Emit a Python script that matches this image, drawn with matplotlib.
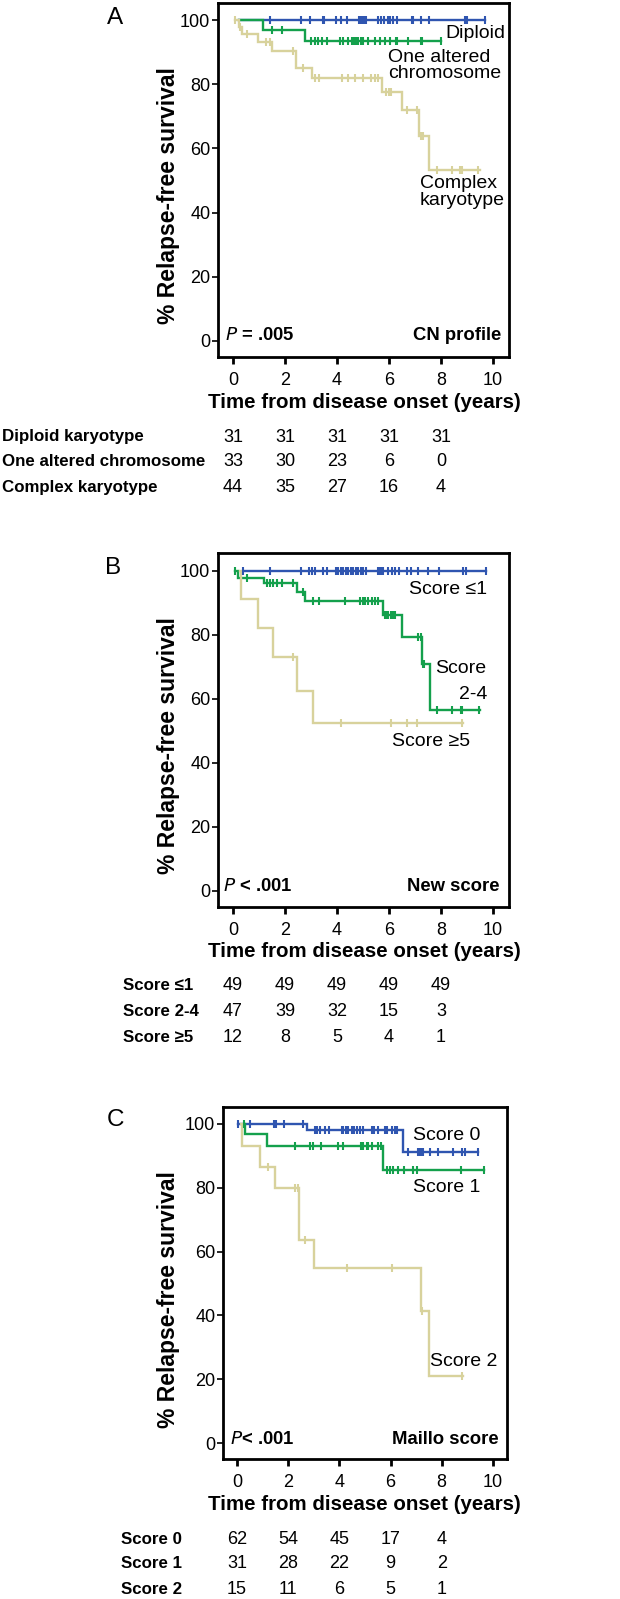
import numpy as np
import matplotlib
matplotlib.use("Agg")
import matplotlib.pyplot as plt
from matplotlib.transforms import blended_transform_factory

plt.rcParams['font.family'] = ['Liberation Sans', 'DejaVu Sans']

BLUE = '#2f55b0'
GREEN = '#14a04c'
TAN = '#d8d29c'

# ---------------- Panel A : CN profile ----------------
A_dip_start, A_dip_end = 0.24, 9.69
A_dip_events = []
A_dip_surv = []
A_dip_cens = [1.42, 2.62, 2.96, 3.45, 3.50, 3.96, 4.15, 4.40, 4.85, 4.91, 4.97, 5.04,
              5.10, 5.56, 5.69, 5.82, 5.95, 6.04, 6.17, 6.32, 6.87, 6.94, 7.23, 7.55,
              8.92, 8.99, 9.69]

A_one_start, A_one_end = 0.24, 7.99
A_one_events = [1.17, 2.77]
A_one_surv = [96.9, 93.5]
A_one_cens = [1.50, 1.87, 3.00, 3.15, 3.28, 3.41, 3.60, 4.12, 4.24, 4.44, 4.56, 4.65,
              4.73, 4.82, 4.91, 5.01, 5.21, 5.46, 5.65, 5.85, 6.04, 6.26, 6.29, 6.74,
              7.22, 7.26, 7.99]

A_cpx_start, A_cpx_end = 0.08, 9.50
A_cpx_events = [0.24, 0.33, 0.95, 1.49, 2.42, 3.05, 5.74, 6.49, 7.15, 7.55]
A_cpx_surv = [97.9, 95.5, 93.0, 90.4, 84.9, 81.8, 77.6, 71.9, 63.75, 53.3]
A_cpx_cens = [0.08, 0.26, 0.55, 1.26, 1.42, 2.30, 2.70, 3.15, 3.32, 4.18, 4.44, 4.69,
              5.01, 5.29, 5.46, 5.59, 5.88, 6.01, 6.07, 6.70, 7.09, 7.23, 7.30, 7.83,
              8.41, 8.73, 8.80, 9.44]

A_rows = ['Diploid karyotype', 'One altered chromosome', 'Complex karyotype']
A_risk = [[31, 31, 31, 31, 31], [33, 30, 23, 6, 0], [44, 35, 27, 16, 4]]

# ---------------- Panel B : New score ----------------
B_s1_start, B_s1_end = 0.38, 9.73
B_s1_events = []
B_s1_surv = []
B_s1_cens = [0.38, 1.42, 2.62, 2.91, 3.04, 3.15, 3.45, 3.63, 3.96, 4.05, 4.14, 4.24,
             4.35, 4.44, 4.53, 4.63, 4.73, 4.82, 4.91, 5.01, 5.10, 5.56, 5.63, 5.69,
             5.78, 5.97, 6.10, 6.23, 6.40, 6.71, 6.83, 7.13, 7.51, 7.94, 8.86, 8.96, 9.73]

B_s24_start, B_s24_end = 0.08, 9.50
B_s24_events = [0.20, 1.19, 2.45, 2.77, 5.78, 6.51, 7.26, 7.58]
B_s24_surv = [97.9, 96.1, 93.5, 90.7, 86.25, 79.3, 70.9, 56.6]
B_s24_cens = [0.08, 0.52, 1.29, 1.42, 1.55, 1.68, 1.87, 2.32, 2.70, 3.09, 3.32, 4.31,
              4.88, 4.99, 5.08, 5.21, 5.33, 5.46, 5.59, 5.85, 5.91, 5.97, 6.06, 6.14,
              6.23, 7.13, 7.22, 7.30, 7.36, 7.86, 8.41, 8.77, 8.82, 9.46]

B_s5_start, B_s5_end = 0.27, 8.84
B_s5_events = [0.30, 0.97, 1.53, 2.45, 3.06]
B_s5_surv = [91.1, 82.1, 73.0, 62.6, 52.4]
B_s5_cens = [2.32, 4.14, 6.06, 6.71, 7.09, 8.80]

B_rows = ['Score ≤1', 'Score 2-4', 'Score ≥5']
B_risk = [[49, 49, 49, 49, 49], [47, 39, 32, 15, 3], [12, 8, 5, 4, 1]]

# ---------------- Panel C : Maillo score ----------------
C_s0_start, C_s0_end = 0.03, 9.43
C_s0_events = [2.72, 6.47]
C_s0_surv = [98.1, 91.25]
C_s0_cens = [0.03, 0.51, 1.45, 1.52, 1.84, 2.59, 3.05, 3.14, 3.24, 3.44, 3.61, 4.09,
             4.15, 4.25, 4.35, 4.48, 4.58, 4.67, 4.80, 4.93, 5.26, 5.35, 5.52, 5.78,
             5.87, 6.04, 6.17, 6.24, 6.69, 7.08, 7.15, 7.21, 7.28, 7.54, 7.86, 8.45,
             8.78, 8.91, 9.43]

C_s1_start, C_s1_end = 0.29, 9.65
C_s1_events = [0.30, 1.16, 5.72]
C_s1_surv = [96.8, 93.2, 85.6]
C_s1_cens = [0.29, 2.27, 2.85, 2.98, 3.28, 3.96, 4.13, 4.83, 4.93, 5.07, 5.13, 5.26,
             5.52, 5.61, 5.85, 5.98, 6.11, 6.30, 6.52, 6.86, 7.02, 8.74, 9.65]

C_s2_start, C_s2_end = 0.17, 8.82
C_s2_events = [0.18, 0.90, 1.48, 2.42, 3.01, 7.19, 7.51]
C_s2_surv = [93.2, 86.4, 79.9, 63.75, 54.7, 41.3, 21.0]
C_s2_cens = [1.22, 2.27, 2.37, 2.65, 4.28, 6.04, 7.21, 8.78]

C_rows = ['Score 0', 'Score 1', 'Score 2']
C_risk = [[62, 54, 45, 17, 4], [31, 28, 22, 9, 2], [15, 11, 6, 5, 1]]

risk_times = [0, 2, 4, 6, 8]
x_ticks = [0, 2, 4, 6, 8, 10]
y_ticks = [0, 20, 40, 60, 80, 100]

W, H = 620, 1599
fig = plt.figure(figsize=(W / 100, H / 100), dpi=100)


def fx(px):
    return px / W


def fy(py):
    return 1 - py / H


def km(ax, start, end, events, surv, cens, color):
    xs = [start] + list(events) + [end]
    ys = [100] + list(surv) + [surv[-1] if surv else 100]
    ax.step(xs, ys, where='post', color=color, lw=1.7, solid_joinstyle='miter', zorder=3)
    levels = np.array([100] + list(surv))
    idx = np.searchsorted(np.array(events, dtype=float), np.array(cens), side='right')
    ax.plot(cens, levels[idx], ls='none', marker='|', ms=6, mew=1.5, color=color, zorder=4)


def panel(left, top, right, bottom, xlim, ylim, letter, letter_xy, pval_xy, ptext,
          title, title_x, ylab_x, ylab_y, xlab_y):
    ax = fig.add_axes([fx(left), fy(bottom), fx(right - left), (bottom - top) / H])
    ax.set_xlim(*xlim)
    ax.set_ylim(*ylim)
    for s in ax.spines.values():
        s.set_linewidth(2)
    ax.set_xticks(x_ticks)
    ax.set_yticks(y_ticks)
    ax.tick_params(axis='y', direction='out', length=4, width=1.2, pad=1.5, labelsize=13)
    ax.tick_params(axis='x', direction='out', length=5, width=2, pad=5.5, labelsize=13)
    fig.text(fx(letter_xy[0]), fy(letter_xy[1]), letter, fontsize=17.5, ha='center', va='center')
    ax.text(pval_xy[0], pval_xy[1], ptext, transform=ax.transAxes, fontsize=13.3,
            fontweight='bold', ha='left', va='center')
    ax.text(title_x, pval_xy[1], title, transform=ax.transAxes, fontsize=13.3,
            fontweight='bold', ha='right', va='center')
    fig.text(fx(ylab_x), fy(ylab_y), '% Relapse-free survival', rotation=90, fontsize=16.5,
             fontweight='bold', ha='center', va='center')
    fig.text(fx(364), fy(xlab_y), 'Time from disease onset (years)', fontsize=14.8,
             fontweight='bold', ha='center', va='center')
    return ax


def risk_table(ax, rows, risk, label_x, row_ys):
    tr = blended_transform_factory(ax.transData, fig.transFigure)
    for name, counts, py in zip(rows, risk, row_ys):
        fig.text(fx(label_x), fy(py), name, fontsize=12.2, fontweight='bold', ha='left', va='center')
        for t, c in zip(risk_times, counts):
            ax.text(t, fy(py), str(c), transform=tr, fontsize=13, ha='center', va='center',
                    clip_on=False)


# Panel A
axA = panel(218, 3, 509, 357, (-0.577, 10.615), (-5, 105.3), 'A', (115, 18),
            (0.024, 0.062), r'$\bf{\it{P}}$ = .005', 'CN profile', 0.975, 168, 196, 402)
km(axA, A_dip_start, A_dip_end, A_dip_events, A_dip_surv, A_dip_cens, BLUE)
km(axA, A_one_start, A_one_end, A_one_events, A_one_surv, A_one_cens, GREEN)
km(axA, A_cpx_start, A_cpx_end, A_cpx_events, A_cpx_surv, A_cpx_cens, TAN)
axA.text(10.46, 95.9, 'Diploid', fontsize=14, ha='right', va='center')
axA.text(5.96, 85.9, 'One altered\nchromosome', fontsize=14, ha='left', va='center',
         linespacing=0.95)
axA.text(7.19, 46.4, 'Complex\nkaryotype', fontsize=14, ha='left', va='center',
         linespacing=0.95)
risk_table(axA, A_rows, A_risk, 2, [437, 462, 487])

# Panel B
axB = panel(218, 553, 509, 907, (-0.577, 10.615), (-5, 105.6), 'B', (113, 568),
            (0.017, 0.057), r'$\bf{\it{P}}$ < .001', 'New score', 0.969, 168, 746, 952)
km(axB, B_s1_start, B_s1_end, B_s1_events, B_s1_surv, B_s1_cens, BLUE)
km(axB, B_s24_start, B_s24_end, B_s24_events, B_s24_surv, B_s24_cens, GREEN)
km(axB, B_s5_start, B_s5_end, B_s5_events, B_s5_surv, B_s5_cens, TAN)
axB.text(9.77, 94.3, 'Score ≤1', fontsize=14, ha='right', va='center')
axB.text(7.77, 69.6, 'Score', fontsize=14, ha='left', va='center')
axB.text(9.77, 61.3, '2-4', fontsize=14, ha='right', va='center')
axB.text(6.10, 46.7, 'Score ≥5', fontsize=14, ha='left', va='center')
risk_table(axB, B_rows, B_risk, 123, [986, 1012, 1037])

# Panel C
axC = panel(223, 1107, 507, 1459, (-0.547, 10.55), (-5, 105.3), 'C', (115, 1120),
            (0.025, 0.054), r'$\bf{\it{P}}$< .001', 'Maillo score', 0.969, 168, 1300, 1504)
km(axC, C_s0_start, C_s0_end, C_s0_events, C_s0_surv, C_s0_cens, BLUE)
km(axC, C_s1_start, C_s1_end, C_s1_events, C_s1_surv, C_s1_cens, GREEN)
km(axC, C_s2_start, C_s2_end, C_s2_events, C_s2_surv, C_s2_cens, TAN)
axC.text(6.875, 96.5, 'Score 0', fontsize=14, ha='left', va='center')
axC.text(6.875, 80.0, 'Score 1', fontsize=14, ha='left', va='center')
axC.text(7.55, 25.5, 'Score 2', fontsize=14, ha='left', va='center')
risk_table(axC, C_rows, C_risk, 121, [1540, 1564, 1589])

fig.savefig('out.png', dpi=100)
